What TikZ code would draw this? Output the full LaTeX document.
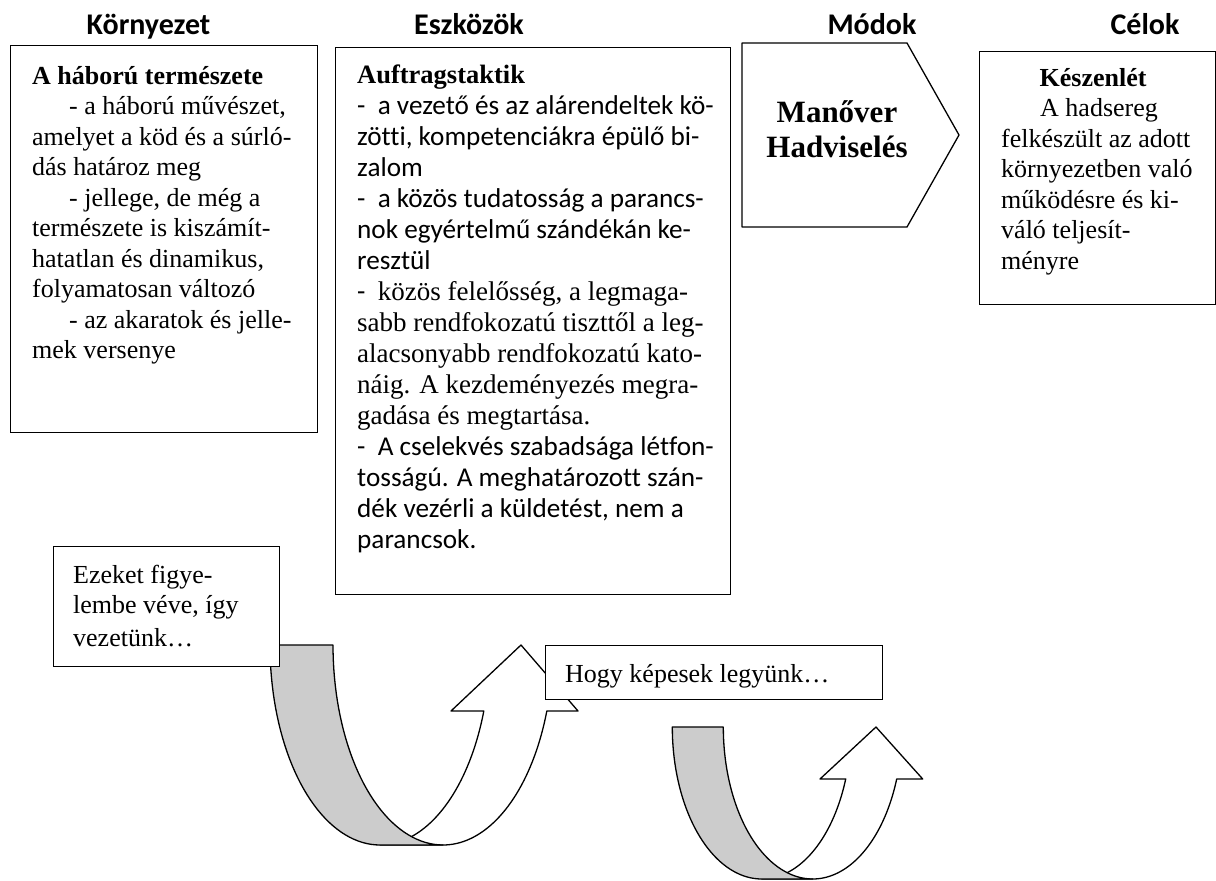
\documentclass[tikz,border=0pt]{standalone}
\usepackage{fontspec}
\setmainfont{Liberation Serif}
\newfontfamily\calfont[Ligatures=NoCommon]{Carlito}
\definecolor{shade}{HTML}{CCCCCC}
\newcommand\srf{\rmfamily\fontsize{26}{30.5}\selectfont}
\newcommand\snb{\calfont\fontsize{27.2}{31}\selectfont}
\newcommand\sgb{\rmfamily\fontsize{27}{31}\selectfont}
\tikzset{
  box/.style={draw=black, line width=1.3pt, fill=white, inner sep=0pt, anchor=north west},
  txt/.style={inner sep=0pt, anchor=base west},
  hdr/.style={inner sep=0pt, anchor=base, font=\calfont\bfseries\fontsize{30}{34}\selectfont},
  arrowline/.style={draw=black, line width=1.3pt, line join=round},
}
\begin{document}
\begin{tikzpicture}[x=1pt,y=-1pt]
\useasboundingbox (0,0) rectangle (1216,881);
% headers
\node[hdr] (h1) at (148.5,34) {Környezet};
\node[hdr] (h2) at (469,34) {Eszközök};
\node[hdr] (h3) at (872,34) {Módok};
\node[hdr] (h4) at (1145,34) {Célok};
% box 1
\node[box, minimum width=307pt, minimum height=387pt] (b1) at (10,45) {};
\node[txt] (t1) at (32,84) {\begin{minipage}[t]{400pt}\srf\raggedright
\textbf{A háború természete}\\
\hspace*{37pt}- a háború művészet,\\
amelyet a köd és a súrló-\\
dás határoz meg\\
\hspace*{37pt}- jellege, de még a\\
természete is kiszámít-\\
hatatlan és dinamikus,\\
folyamatosan változó\\
\hspace*{37pt}- az akaratok és jelle-\\
mek versenye
\end{minipage}};
% box 2
\node[box, minimum width=395.4pt, minimum height=547pt] (b2) at (334.6,47) {};
\node[txt] (t2) at (357,83) {\begin{minipage}[t]{500pt}\raggedright
{\rmfamily\bfseries\fontsize{26.5}{31}\selectfont Auftragstaktik}\\
\snb -\ \ a vezető és az alárendeltek kö-\\
zötti, kompetenciákra épülő bi-\\
zalom\\
-\ \ a közös tudatosság a parancs-\\
nok egyértelmű szándékán ke-\\
resztül\\
-\ \ \sgb közös felelősség, a legmaga-\\
sabb rendfokozatú tiszttől a leg-\\
alacsonyabb rendfokozatú kato-\\
náig. A kezdeményezés megra-\\
gadása és megtartása.\\
\snb -\ \ A cselekvés szabadsága létfon-\\
tosságú. A meghatározott szán-\\
dék vezérli a küldetést, nem a\\
parancsok.
\end{minipage}};
% pentagon
\draw[arrowline, fill=white] (742,43) -- (907,43) -- (959,135) -- (907,227) -- (742,227) -- cycle;
\node[inner sep=0pt, anchor=base] (t3) at (837,122) {\begin{minipage}[t]{200pt}\centering\rmfamily\bfseries\fontsize{31}{35}\selectfont
Manőver\\
Hadviselés
\end{minipage}};
% box 4
\node[box, minimum width=236pt, minimum height=253pt] (b4) at (979,51) {};
\node[txt] (t4) at (1001,86) {\begin{minipage}[t]{400pt}\srf\raggedright
\hspace*{38.5pt}\textbf{Készenlét}\\
\hspace*{39pt}A hadsereg\\
felkészült az adott\\
környezetben való\\
működésre és ki-\\
váló teljesít-\\
ményre
\end{minipage}};
% curved arrow 1
\draw[arrowline, fill=white]
  plot[domain=90:19.27, samples=40, variable=\t] ({443+110*cos(\t)},{645+200*sin(\t)})
  -- (578,711) -- (521,645) -- (451,711)
  -- plot[domain=19.27:90, samples=40, variable=\t] ({380+110*cos(\t)},{645+200*sin(\t)})
  -- cycle;
\draw[arrowline, fill=shade]
  plot[domain=180:90, samples=40, variable=\t] ({380+110*cos(\t)},{645+200*sin(\t)})
  -- plot[domain=90:180, samples=40, variable=\t] ({443+110*cos(\t)},{645+200*sin(\t)})
  -- cycle;
% curved arrow 2
\draw[arrowline, fill=white]
  plot[domain=90:20, samples=40, variable=\t] ({812.7+89.4*cos(\t)},{727+152*sin(\t)})
  -- (922.7,779) -- (876,727) -- (820,779)
  -- plot[domain=20:90, samples=40, variable=\t] ({761.7+89.4*cos(\t)},{727+152*sin(\t)})
  -- cycle;
\draw[arrowline, fill=shade]
  plot[domain=180:90, samples=40, variable=\t] ({761.7+89.4*cos(\t)},{727+152*sin(\t)})
  -- plot[domain=90:180, samples=40, variable=\t] ({812.7+89.4*cos(\t)},{727+152*sin(\t)})
  -- cycle;
% small boxes
\node[box, minimum width=226pt, minimum height=120.3pt] (b5) at (52.7,545.7) {};
\node[txt] (t5) at (73,583) {\begin{minipage}[t]{300pt}\srf\raggedright
Ezeket figye-\\
lembe véve, így\\[2pt]
vezetünk…
\end{minipage}};
\node[box, minimum width=337pt, minimum height=54pt] (b6) at (545,645) {};
\node[txt] (t6) at (565,682) {\srf Hogy képesek legyünk…};
\end{tikzpicture}
\end{document}
